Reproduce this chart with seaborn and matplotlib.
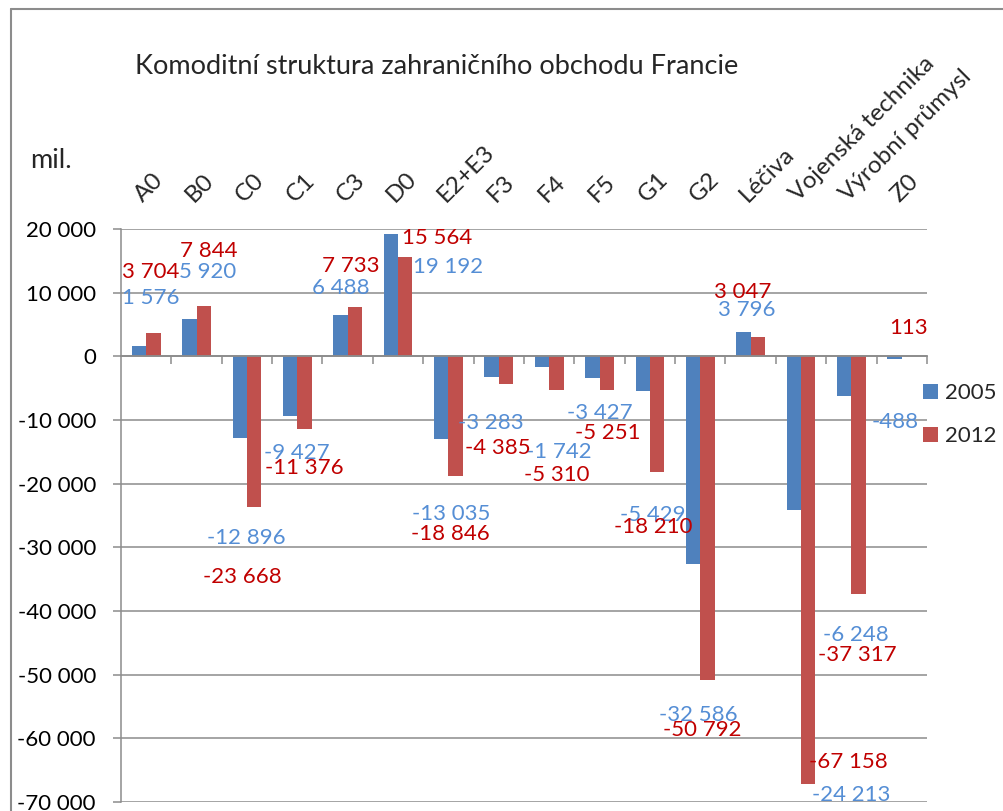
import numpy as np
import pandas as pd
import matplotlib
matplotlib.use("Agg")
import matplotlib.pyplot as plt
import seaborn as sns
from matplotlib.lines import Line2D
from matplotlib.patches import Patch
from matplotlib.ticker import FuncFormatter, FixedLocator

# data (mil.)
kategorie = ["A0", "B0", "C0", "C1", "C3", "D0", "E2+E3", "F3", "F4", "F5",
             "G1", "G2", "Léčiva", "Vojenská technika", "Výrobní průmysl", "Z0"]
hodnoty_2005 = [1576, 5920, -12896, -9427, 6488, 19192, -13035, -3283, -1742, -3427,
                -5429, -32586, 3796, -24213, -6248, -488]
hodnoty_2012 = [3704, 7844, -23668, -11376, 7733, 15564, -18846, -4385, -5310, -5251,
                -18210, -50792, 3047, -67158, -37317, 113]
roky = ["2005", "2012"]

# label anchor positions as placed in the original chart (category index, value)
popisky_2005 = [(0.10, 9160), (1.21, 13290), (1.98, -28585), (2.99, -15235),
                (3.87, 10680), (5.99, 14070), (6.05, -24770), (6.84, -10520),
                (8.19, -14980), (9.00, -8850), (10.06, -24920), (10.97, -56340),
                (11.92, 7270), (14.00, -68900), (14.08, -43770), (14.86, -10370)]
popisky_2012 = [(0.08, 13290), (1.25, 16590), (1.90, -34615), (3.13, -17590),
                (4.06, 14230), (5.77, 18530), (6.03, -27960), (6.98, -14350),
                (8.15, -18640), (9.16, -12100), (10.06, -26860), (11.03, -58700),
                (11.84, 10150), (13.94, -63670), (14.12, -46910), (15.14, 4400)]

df = pd.DataFrame({
    "kategorie": kategorie * 2,
    "hodnota": hodnoty_2005 + hodnoty_2012,
    "rok": [roky[0]] * len(kategorie) + [roky[1]] * len(kategorie),
})

BAR_BLUE = "#4F81BD"
BAR_RED = "#C0504D"
TXT_BLUE = "#558ED5"
TXT_RED = "#C00000"
GRID = "#8C8C8C"

sns.set_style("white")
plt.rcParams["font.family"] = ["Lato", "DejaVu Sans"]

W, H = 1004, 811
fig = plt.figure(figsize=(W / 100, H / 100), dpi=100)
ax = fig.add_axes([121 / W, 1 - 802 / H, (927 - 121) / W, (802 - 229) / H])

sns.barplot(data=df, x="kategorie", y="hodnota", hue="rok",
            palette=[BAR_BLUE, BAR_RED], width=0.57, saturation=1,
            legend=False, ax=ax, zorder=3)
for p in ax.patches:
    p.set_edgecolor("none")

fmt = lambda v: f"{v:,.0f}".replace(",", " ")

ax.set_ylim(-70000, 20000)
ax.set_xlim(-0.5, len(kategorie) - 0.5)
ax.set_yticks(np.arange(-70000, 20001, 10000))
ax.yaxis.set_major_formatter(FuncFormatter(lambda v, _: fmt(v)))
ax.yaxis.grid(True, color=GRID, lw=1.1, zorder=0)
ax.set_axisbelow(True)
ax.set_xlabel("")
ax.set_ylabel("")

for s in ["top", "right"]:
    ax.spines[s].set_visible(False)
ax.spines["left"].set_color(GRID)
ax.spines["left"].set_linewidth(1.1)
ax.spines["bottom"].set_position(("data", 0))
ax.spines["bottom"].set_color(GRID)
ax.spines["bottom"].set_linewidth(1.3)
ax.spines["bottom"].set_zorder(4)

ax.tick_params(axis="y", direction="out", length=6, width=1.1, color=GRID,
               pad=12, labelsize=16, labelcolor="black", left=True)
ax.xaxis.set_minor_locator(FixedLocator(np.arange(0.5, len(kategorie), 1.0)))
ax.tick_params(axis="x", which="minor", bottom=True, top=False, direction="out",
               length=6, width=1.1, color=GRID)
ax.tick_params(axis="x", which="major", bottom=False, top=False, length=0,
               labelbottom=False, labeltop=True, pad=17, labelsize=17.5)
for lab in ax.get_xticklabels():
    lab.set_rotation(45)
    lab.set_ha("left")
    lab.set_va("bottom")
    lab.set_rotation_mode("anchor")

# data labels
for vals, pos, col in [(hodnoty_2005, popisky_2005, TXT_BLUE),
                       (hodnoty_2012, popisky_2012, TXT_RED)]:
    for v, (x, y) in zip(vals, pos):
        ax.text(x, y, fmt(v), color=col, fontsize=16, ha="center", va="center",
                zorder=5, clip_on=False)

# legend
handles = [Patch(facecolor=BAR_BLUE, edgecolor="none"),
           Patch(facecolor=BAR_RED, edgecolor="none")]
fig.legend(handles, roky, loc="upper left", bbox_to_anchor=(912 / W, 1 - 372 / H),
           frameon=False, fontsize=16, handlelength=0.65, handleheight=0.65,
           handletextpad=0.35, labelspacing=1.05, borderpad=0)

# title and unit
fig.text(135 / W, 1 - 66 / H, "Komoditní struktura zahraničního obchodu Francie",
         fontsize=19.5, ha="left", va="center")
fig.text(30 / W, 1 - 160 / H, "mil.", fontsize=19.5, ha="left", va="center")

# chart frame
fig.add_artist(Line2D([11 / W, 11 / W], [0, 1 - 9 / H], color=GRID, lw=1.5))
fig.add_artist(Line2D([11 / W, 1], [1 - 9 / H, 1 - 9 / H], color=GRID, lw=1.5))

fig.savefig("out.png", dpi=100)
